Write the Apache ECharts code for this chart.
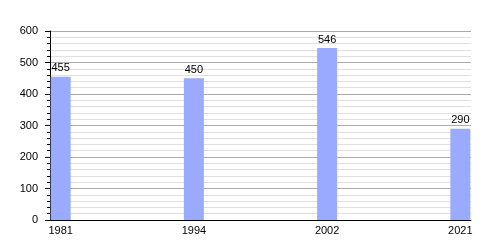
<!DOCTYPE html>
<html><head><meta charset="utf-8">
<script src="https://cdn.jsdelivr.net/npm/echarts@6/dist/echarts.min.js"></script>
<style>html,body{margin:0;padding:0;background:#fff}#c{width:500px;height:250px}</style>
</head><body><div id="c"></div>
<script>
const years = ['1981', '1994', '2002', '2021'];
const values = [455, 450, 546, 290];
const yTicks = [0, 100, 200, 300, 400, 500, 600];

const chart = echarts.init(document.getElementById('c'), null, {renderer: 'canvas'});
const font = 'Liberation Sans, Arial, sans-serif';
chart.setOption({
  animation: false,
  grid: {left: 50, right: 29, top: 31, bottom: 30, containLabel: false},
  xAxis: {
    type: 'value', min: -0.08, max: 3.08,
    axisLine: {show: true, onZero: false, lineStyle: {color: '#000', width: 1}},
    axisTick: {show: false},
    splitLine: {show: false},
    axisLabel: {
      customValues: years.map((y, i) => i),
      formatter: v => years[Math.round(v)],
      color: '#000', fontFamily: font, fontSize: 11, margin: 5
    }
  },
  yAxis: {
    type: 'value', min: yTicks[0], max: yTicks[yTicks.length - 1], interval: 100,
    axisLine: {show: true, onZero: false, lineStyle: {color: '#000', width: 1}},
    axisTick: {show: true, length: 5, lineStyle: {color: '#000'}},
    minorTick: {show: true, splitNumber: 5, length: 3, lineStyle: {color: '#000'}},
    splitLine: {show: true, lineStyle: {color: '#aaaaaa', width: 1}},
    minorSplitLine: {show: true, lineStyle: {color: '#e0e0e0', width: 1}},
    axisLabel: {color: '#000', fontFamily: font, fontSize: 11, margin: 12}
  },
  series: [{
    type: 'bar',
    barWidth: 20,
    data: values.map((v, i) => [i, v]),
    itemStyle: {color: '#99aaff'},
    label: {show: true, position: 'top', distance: 3, color: '#000', fontFamily: font, fontSize: 11,
      formatter: p => p.value[1]}
  }]
});
</script></body></html>
